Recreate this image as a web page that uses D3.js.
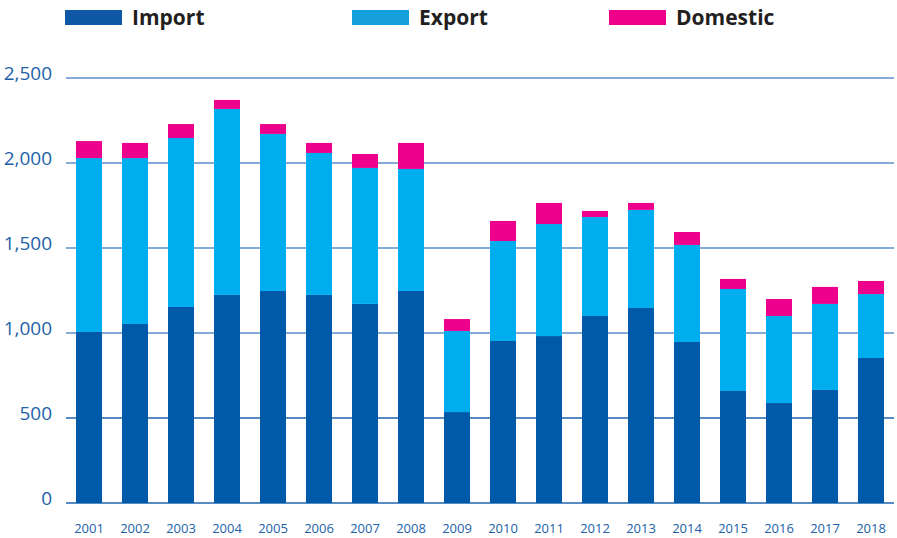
<!DOCTYPE html>
<html>
<head>
<meta charset="utf-8">
<script src="https://cdn.jsdelivr.net/npm/d3@7"></script>
<style>
  body { margin: 0; background: #fff; }
  svg { display: block; }
</style>
</head>
<body>
<div id="chart"></div>
<script>
const years = ['2001','2002','2003','2004','2005','2006','2007','2008','2009',
  '2010','2011','2012','2013','2014','2015','2016','2017','2018'];
const importVals   = [1006, 1053, 1153, 1224, 1247, 1224, 1171, 1247, 535, 953, 982, 1100, 1147, 947, 659, 588, 665, 853];
const exportVals   = [1023, 976, 994, 1094, 924, 835, 800, 718, 477, 588, 659, 582, 577, 571, 600, 512, 506, 376];
const domesticVals = [100, 89, 82, 53, 58, 59, 82, 153, 70, 118, 124, 36, 41, 76, 59, 100, 100, 77];
const yTicks = [0, 500, 1000, 1500, 2000, 2500];
const seriesNames = ['Import', 'Export', 'Domestic'];

const w = 897, h = 538;
const barColors = ['#005aa9', '#00adee', '#ec008c'];
const legendColors = ['#0f58a6', '#159fdb', '#ee0088'];

const rows = years.map((y, i) => ({
  year: y, Import: importVals[i], Export: exportVals[i], Domestic: domesticVals[i]
}));

const svg = d3.select('#chart').append('svg')
  .attr('width', w)
  .attr('height', h);

const x = d3.scaleBand()
  .domain(years)
  .range([66, 894])
  .paddingInner(0.435)
  .paddingOuter(0.2175);

const y = d3.scaleLinear()
  .domain([0, 2500])
  .range([503, 78]);

// gridlines
svg.append('g')
  .selectAll('line')
  .data(yTicks)
  .enter()
  .append('line')
  .attr('x1', 66)
  .attr('x2', 894)
  .attr('y1', d => y(d))
  .attr('y2', d => y(d))
  .attr('stroke', d => d <= 500 ? '#1f62ae' : '#5a8fc8')
  .attr('stroke-width', 1.6);

// y labels
svg.append('g')
  .selectAll('text')
  .data(yTicks)
  .enter()
  .append('text')
  .attr('x', 52)
  .attr('y', d => y(d) + 2)
  .attr('text-anchor', 'end')
  .attr('fill', '#1d5fa8')
  .style('font-family', '"Open Sans", sans-serif')
  .style('font-size', '19px')
  .text(d => d3.format(',')(d));

const stack = d3.stack().keys(seriesNames)(rows);

svg.append('g')
  .selectAll('g')
  .data(stack)
  .enter()
  .append('g')
  .attr('fill', (d, i) => barColors[i])
  .selectAll('rect')
  .data(d => d)
  .enter()
  .append('rect')
  .attr('x', d => x(d.data.year))
  .attr('width', x.bandwidth())
  .attr('y', d => y(d[1]))
  .attr('height', d => y(d[0]) - y(d[1]));

// x labels
svg.append('g')
  .selectAll('text')
  .data(years)
  .enter()
  .append('text')
  .attr('x', d => x(d) + x.bandwidth() / 2)
  .attr('y', 533)
  .attr('text-anchor', 'middle')
  .attr('fill', '#1d5fa8')
  .style('font-family', '"Open Sans", sans-serif')
  .style('font-size', '13px')
  .text(d => d);

// legend
const legendX = [65, 352, 609];
const lg = svg.append('g')
  .selectAll('g')
  .data(seriesNames)
  .enter()
  .append('g')
  .attr('transform', (d, i) => 'translate(' + legendX[i] + ',10)');

lg.append('rect')
  .attr('width', 57)
  .attr('height', 15)
  .attr('fill', (d, i) => legendColors[i]);

lg.append('text')
  .attr('x', 67)
  .attr('y', 15)
  .attr('fill', '#231f20')
  .style('font-family', '"Open Sans", sans-serif')
  .style('font-weight', 'bold')
  .style('font-size', '21px')
  .text(d => d);
</script>
</body>
</html>
